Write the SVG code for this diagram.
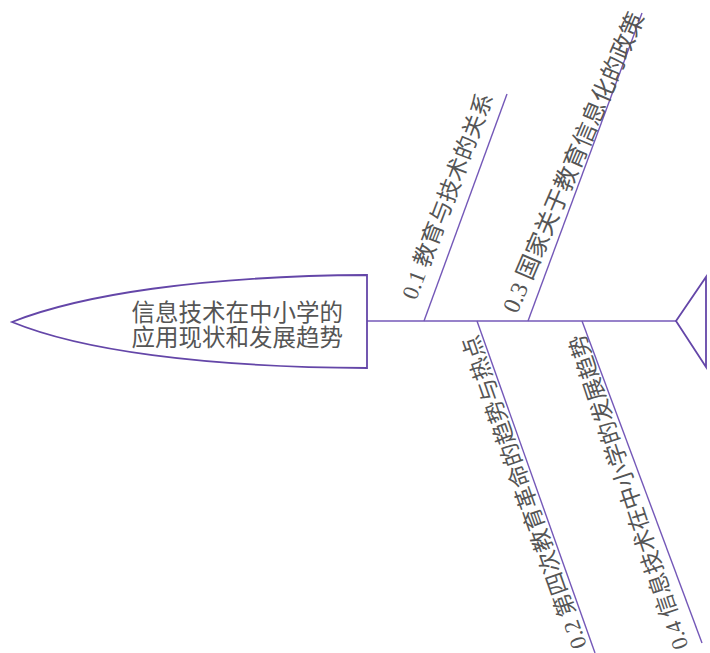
<svg xmlns="http://www.w3.org/2000/svg" width="710" height="653" viewBox="0 0 710 653">
<style>
.ln{stroke:#7458b8;stroke-width:1.4;fill:none}
.hd{stroke:#6446a8;stroke-width:1.8;fill:#ffffff}
.t{font-family:"Liberation Serif","Noto Sans CJK SC",sans-serif;fill:#555555}
.m{font-family:"Liberation Sans","Noto Sans CJK SC",sans-serif;fill:#555555;font-size:23.5px;text-anchor:end}
</style>
<rect width="710" height="653" fill="#ffffff"/>
<g id="connectors">
<line class="ln" x1="367" y1="321" x2="676" y2="321"/>
<line class="ln" x1="424" y1="321" x2="507" y2="94"/>
<line class="ln" x1="528" y1="321" x2="642" y2="13"/>
<line class="ln" x1="477" y1="321" x2="595" y2="653"/>
<line class="ln" x1="582" y1="321" x2="702" y2="643"/>
</g>
<g id="head">
<path class="hd" d="M12,322 C80,295 200,276 367,275 L367,368 C200,367 80,350 12,322 Z"/>
<text class="m" x="343" y="321">信息技术在中小学的</text>
<text class="m" x="343" y="346">应用现状和发展趋势</text>
</g>
<g id="tail">
<polygon class="hd" points="676,321 706,277 706,367"/>
</g>
<g id="b01">
<text class="t" font-size="23" transform="translate(415.9,301.1) rotate(-69.2)">0.1 教育与技术的关系</text>
</g>
<g id="b03">
<text class="t" font-size="24" transform="translate(517,314.5) rotate(-66.8)">0.3 国家关于教育信息化的政策</text>
</g>
<g id="b02">
<text class="t" font-size="22.8" transform="translate(587,645.5) rotate(-109.4)">0.2 第四次教育革命的趋势与热点</text>
</g>
<g id="b04">
<text class="t" font-size="22.8" transform="translate(688.5,646.5) rotate(-108.4)">0.4 信息技术在中小学的发展趋势</text>
</g>
</svg>
